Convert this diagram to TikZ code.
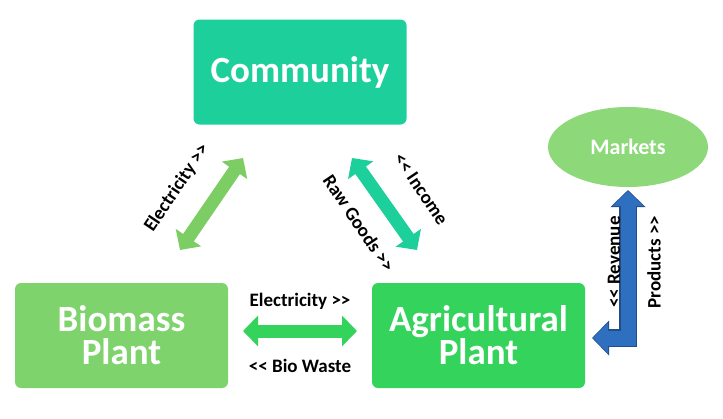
\documentclass[tikz,border=0pt]{standalone}
\usepackage{fontspec}
\setmainfont{Carlito}
\usetikzlibrary{arrows.meta,shapes.geometric}
\definecolor{teal1}{HTML}{1DCF9B}
\definecolor{lgreen}{HTML}{7FD36C}
\definecolor{mgreen}{HTML}{34D45C}
\definecolor{mkgreen}{HTML}{8DD97A}
\definecolor{arrgreen}{HTML}{7CCD63}
\definecolor{arrblue}{HTML}{2F6FC0}
\tikzset{
  box/.style={draw=none,rounded corners=6pt,minimum width=213pt,minimum height=105pt,
    text=white,font=\bfseries\fontsize{37}{37}\selectfont,align=center},
  fat/.style={line width=13pt,{Triangle[width=30pt,length=15pt]}-{Triangle[width=30pt,length=15pt]}},
  lbl/.style={font=\bfseries\fontsize{19}{21}\selectfont}
}
\begin{document}
\begin{tikzpicture}[x=1pt,y=-1pt]
\useasboundingbox (0,0) rectangle (723,418);

\node[box,fill=teal1] (comm) at (300,72) {Community};
\node[box,fill=lgreen] (bio) at (121.5,335.5) {Biomass\\[-4pt]Plant};
\node[box,fill=mgreen] (agri) at (478.5,335.5) {Agricultural\\[-4pt]Plant};
\node[ellipse,fill=mkgreen,minimum width=160pt,minimum height=80pt,text=white,
  font=\bfseries\fontsize{22}{24}\selectfont] (mkt) at (628,147) {Markets};

% arrow ends
\coordinate (l1) at (180,250);
\coordinate (l2) at (243,158);
\coordinate (r1) at (352,158);
\coordinate (r2) at (417,250);
\coordinate (h1) at (243,331);
\coordinate (h2) at (357,331);
\coordinate (b1) at (628,190);
\coordinate (b2) at (628,338);
\coordinate (b3) at (592,338);

\draw[fat,arrgreen] (l1) -- (l2);
\draw[fat,teal1] (r1) -- (r2);
\draw[fat,mgreen] (h1) -- (h2);
\draw[line width=18pt,arrblue!70!black,{Triangle[width=34pt,length=17pt]}-{Triangle[width=34pt,length=17pt]}] (b1) -- (b2) -- (b3);
\draw[line width=15pt,arrblue,{Triangle[width=30pt,length=15pt]}-{Triangle[width=30pt,length=15pt]},shorten <=1pt,shorten >=1pt] (b1) -- (b2) -- (b3);

\node[lbl,rotate=56] (t1) at (177,188) {Electricity >{}>};
\node[lbl,rotate=-56] (t2) at (359,223) {Raw Goods >{}>};
\node[lbl,rotate=-56] (t3) at (421,189) {<{}< Income};
\node[lbl] (t4) at (300,301) {Electricity >{}>};
\node[lbl] (t5) at (300,366) {<{}< Bio Waste};
\node[lbl,rotate=90] (t6) at (614,262) {<{}< Revenue};
\node[lbl,rotate=90] (t7) at (654,262) {Products >{}>};
\end{tikzpicture}
\end{document}
